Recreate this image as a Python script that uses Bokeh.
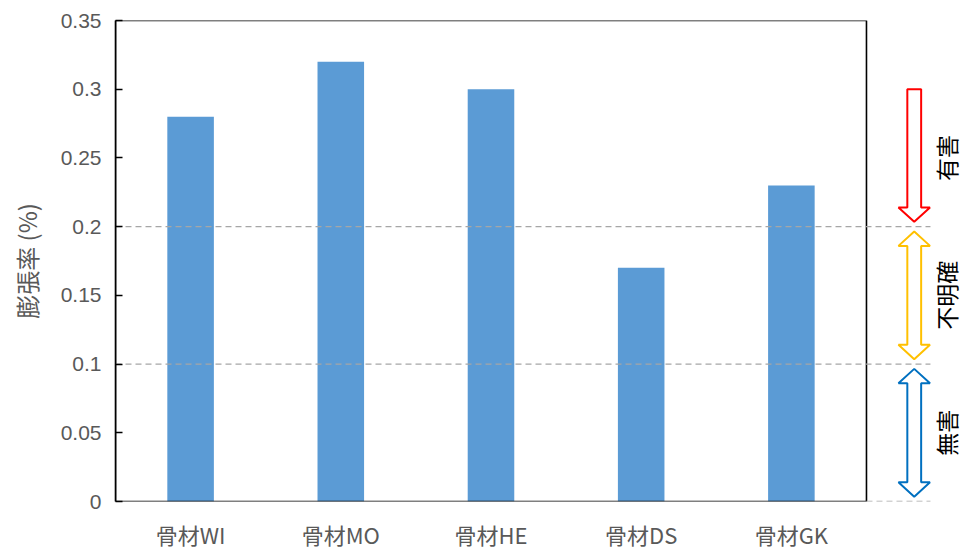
from bokeh.plotting import figure
from bokeh.models import Range1d, FixedTicker, ColumnDataSource
from bokeh.core.properties import value
from bokeh.embed import file_html
from bokeh.resources import INLINE

# --- data ---
categories = ["骨材WI", "骨材MO", "骨材HE", "骨材DS", "骨材GK"]
expansion = [0.28, 0.32, 0.30, 0.17, 0.23]
y_ticks = [0, 0.05, 0.1, 0.15, 0.2, 0.25, 0.3, 0.35]
y_tick_labels = ["0", "0.05", "0.1", "0.15", "0.2", "0.25", "0.3", "0.35"]

# judgement bands: (label, low, high, colour, double-headed)
band_labels = ["有害", "不明確", "無害"]
band_low = [0.2, 0.1, 0.0]
band_high = [0.3, 0.2, 0.1]
band_colors = ["#FF0000", "#FFC000", "#0070C0"]
band_double = [False, True, True]
thresholds = [0.2, 0.1]

# --- layout constants ---
n = len(categories)
X_MAX = 5.646          # extra room right of the chart box for the band arrows
Y_MAX = 0.35
BAR_W = 0.31
GRAY = "#595959"
CJK = "Noto Sans CJK JP"

p = figure(width=963, height=552, x_range=Range1d(0, X_MAX), y_range=Range1d(0, Y_MAX),
           output_backend="svg", toolbar_location=None,
           min_border_left=115, min_border_right=0, min_border_top=20, min_border_bottom=51)
p.outline_line_color = None
p.xgrid.visible = False
p.ygrid.visible = False
p.background_fill_color = "white"
p.border_fill_color = "white"

# bars
xs = [i + 0.5 for i in range(n)]
src = ColumnDataSource(dict(x=xs, top=expansion))
p.vbar(x="x", top="top", width=BAR_W, bottom=0, source=src, fill_color="#5B9BD5", line_color=None)

# chart box
p.line([0, n, n, 0, 0], [0, 0, Y_MAX, Y_MAX, 0], line_color="black", line_width=1.6)

# threshold dashed lines (extend past the box to the arrows)
DASH_END = 5.426
for t in thresholds:
    p.line([0, DASH_END], [t, t], line_color="#A6A6A6", line_width=1.3, line_dash="6 4")
p.line([n, DASH_END], [0, 0], line_color="#A6A6A6", line_width=1.3, line_dash="6 4")

# hollow block arrows for the judgement bands
xc = 5.318
shaft_half = 0.046
head_half = 0.105
head_len = 0.0105
gap = 0.0035
for lo, hi, col, dbl in zip(band_low, band_high, band_colors, band_double):
    top = hi - (gap if dbl else 0)
    bot = lo + gap
    px = []
    py = []
    if dbl:
        px += [xc, xc + head_half, xc + shaft_half]
        py += [top, top - head_len, top - head_len]
    else:
        px += [xc + shaft_half]
        py += [top]
    px += [xc + shaft_half, xc + head_half, xc, xc - head_half, xc - shaft_half]
    py += [bot + head_len, bot + head_len, bot, bot + head_len, bot + head_len]
    if dbl:
        px += [xc - shaft_half, xc - head_half]
        py += [top - head_len, top - head_len]
    else:
        px += [xc - shaft_half]
        py += [top]
    p.patch(px, py, fill_color="white", line_color=col, line_width=2)

# band labels, rotated
p.text(x=[5.53] * 3, y=[(a + b) / 2 for a, b in zip(band_low, band_high)], text=band_labels,
       angle=1.5708, text_align="center", text_baseline="middle",
       text_font=value(CJK), text_font_size="23px", text_color="black")

# axes
p.yaxis.ticker = FixedTicker(ticks=y_ticks)
p.yaxis.major_label_overrides = {t: l for t, l in zip(y_ticks, y_tick_labels)}
p.yaxis.minor_tick_line_color = None
p.yaxis.major_tick_in = 7
p.yaxis.major_tick_out = 0
p.yaxis.major_tick_line_color = "black"
p.yaxis.major_tick_line_width = 1.6
p.yaxis.axis_line_color = "black"
p.yaxis.axis_line_width = 1.6
p.yaxis.major_label_text_font = "Liberation Sans"
p.yaxis.major_label_text_font_size = "21px"
p.yaxis.major_label_text_color = GRAY
p.yaxis.major_label_standoff = 14
p.yaxis.axis_label = "膨張率 (%)"
p.yaxis.axis_label_text_font = CJK
p.yaxis.axis_label_text_font_size = "24px"
p.yaxis.axis_label_text_font_style = "normal"
p.yaxis.axis_label_text_color = GRAY
p.yaxis.axis_label_standoff = 14

p.xaxis.ticker = FixedTicker(ticks=xs)
p.xaxis.major_label_overrides = {x: c for x, c in zip(xs, categories)}
p.xaxis.minor_tick_line_color = None
p.xaxis.major_tick_line_color = None
p.xaxis.axis_line_color = None
p.xaxis.major_label_text_font = CJK
p.xaxis.major_label_text_font_size = "22px"
p.xaxis.major_label_text_color = GRAY
p.xaxis.major_label_standoff = 10

open("out.html", "w").write(file_html(p, INLINE))
